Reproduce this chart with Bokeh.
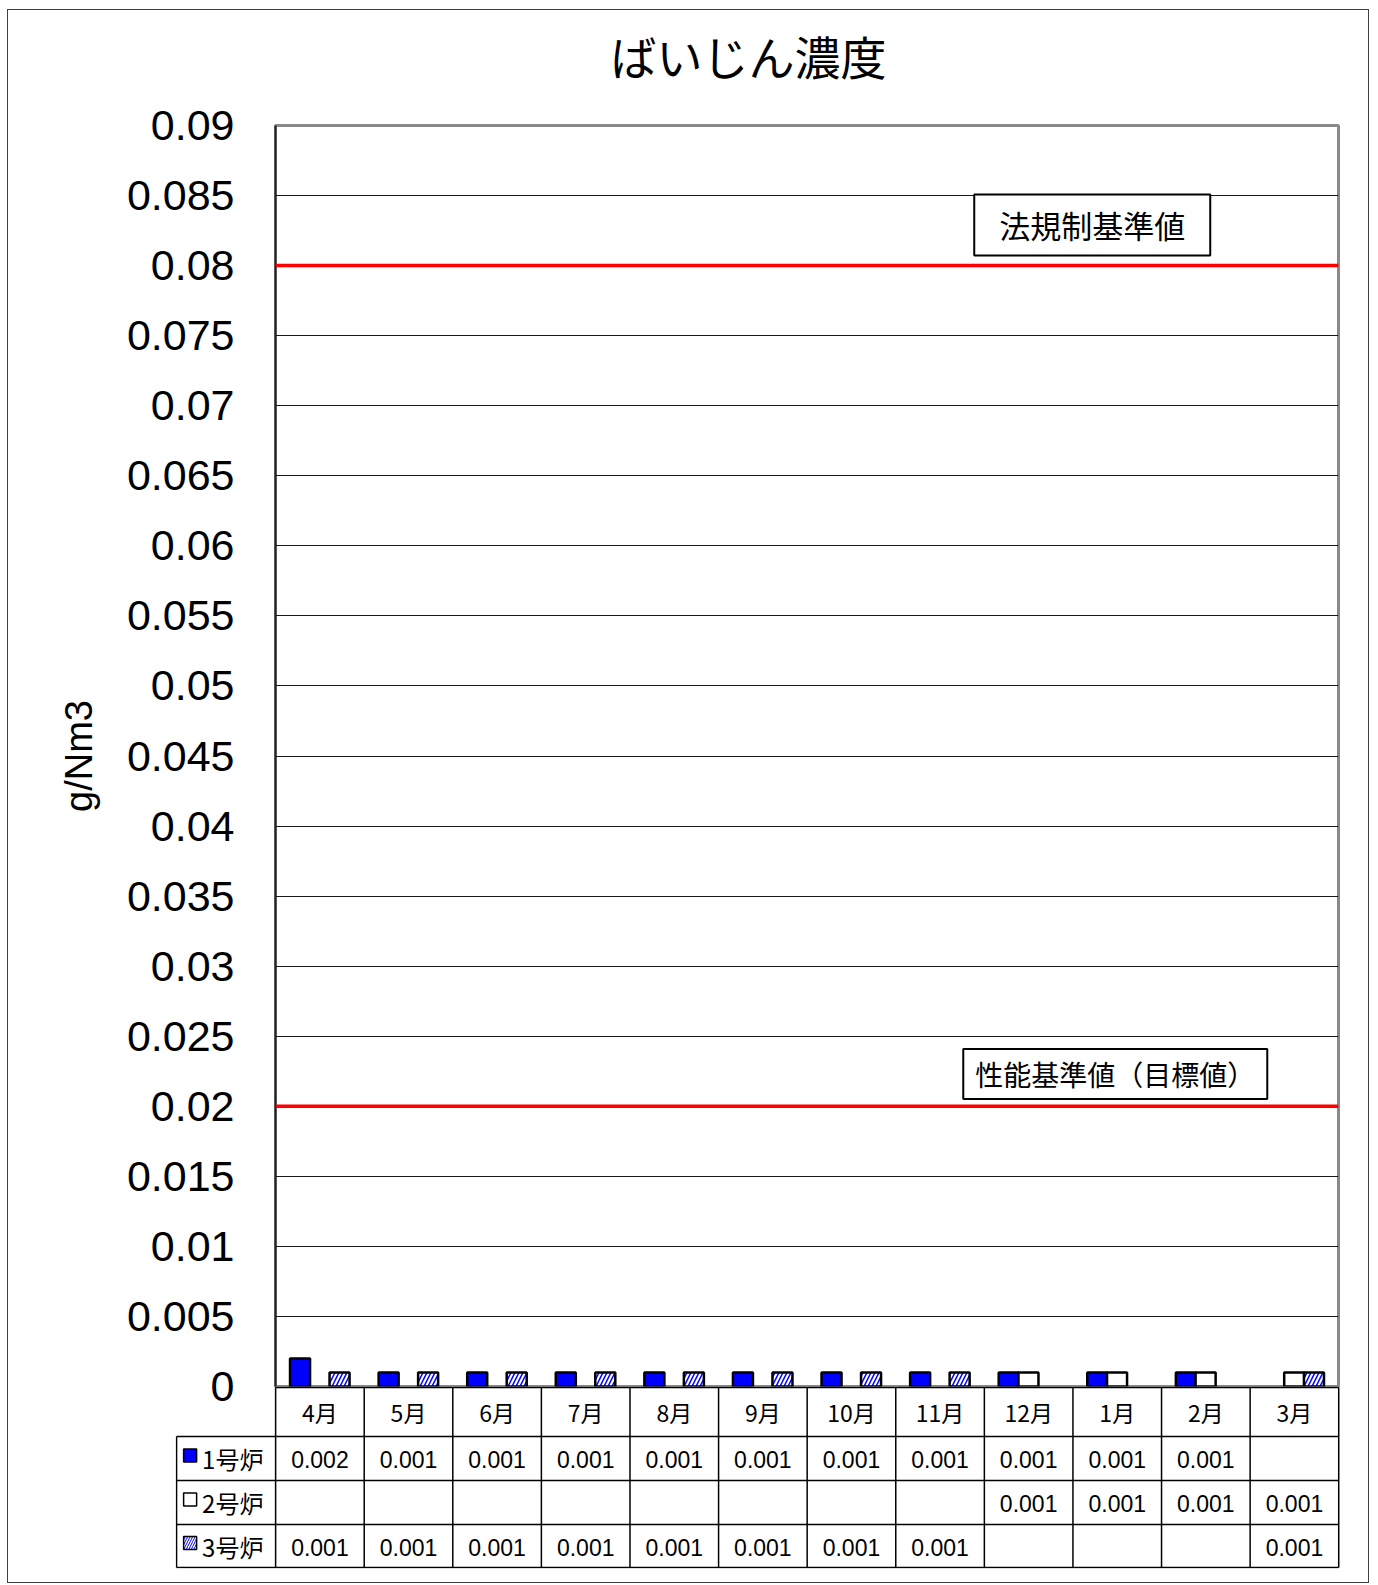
from bokeh.plotting import figure
from bokeh.models import (ColumnDataSource, FactorRange, Range1d, FixedTicker,
                          CustomJSTickFormatter, Span, Label)
from bokeh.transform import dodge
from bokeh.core.properties import value
from bokeh.embed import file_html
from bokeh.resources import INLINE

# ---------------- data ----------------
months = ["4月", "5月", "6月", "7月", "8月", "9月", "10月", "11月", "12月", "1月", "2月", "3月"]
series_names = ["1号炉", "2号炉", "3号炉"]
unit1 = [0.002, 0.001, 0.001, 0.001, 0.001, 0.001, 0.001, 0.001, 0.001, 0.001, 0.001, None]
unit2 = [None, None, None, None, None, None, None, None, 0.001, 0.001, 0.001, 0.001]
unit3 = [0.001, 0.001, 0.001, 0.001, 0.001, 0.001, 0.001, 0.001, None, None, None, 0.001]
limit_values = [0.08, 0.02]
limit_labels = ["法規制基準値", "性能基準値（目標値）"]
y_ticks = [0.0, 0.005, 0.01, 0.015, 0.02, 0.025, 0.03, 0.035, 0.04, 0.045,
           0.05, 0.055, 0.06, 0.065, 0.07, 0.075, 0.08, 0.085, 0.09]
title_text = "ばいじん濃度"
y_label = "g/Nm3"

series = [unit1, unit2, unit3]

# ---------------- styles ----------------
BLUE = "#0000ff"
bar_styles = [
    dict(fill_color=BLUE),
    dict(fill_color="white"),
    dict(fill_color="white", hatch_pattern="/", hatch_color=BLUE, hatch_scale=8, hatch_weight=1.5),
]
offsets = [-0.223, 0.0, 0.223]
bar_width = 0.226
JP = "Noto Sans CJK JP"
LAT = "Liberation Sans"
BORDER = "1px solid #404040"
W = 1362

# ---------------- title strip ----------------
TITLE_H = 116
p0 = figure(width=W, height=TITLE_H, x_range=Range1d(0, W), y_range=Range1d(TITLE_H, 0),
            toolbar_location=None, output_backend="svg",
            x_axis_location=None, y_axis_location=None,
            min_border_left=0, min_border_right=0, min_border_top=0, min_border_bottom=0,
            styles={"margin-left": "7px", "margin-top": "9px",
                    "border-top": BORDER, "border-left": BORDER, "border-right": BORDER})
p0.outline_line_color = None
p0.grid.visible = False
p0.text(x=[602], y=[44], text=[title_text], text_font=value(JP), text_font_size="46px",
        text_color="black", text_align="left", text_baseline="middle")

# ---------------- chart ----------------
FRAME_H = 1261
p1 = figure(width=W, height=FRAME_H + 50,
            x_range=FactorRange(factors=months, range_padding=0, factor_padding=0),
            y_range=Range1d(0, 0.09),
            toolbar_location=None, output_backend="svg",
            x_axis_location=None,
            min_border_left=267, min_border_right=32, min_border_top=25, min_border_bottom=25,
            styles={"margin-left": "7px", "margin-top": "-25px",
                    "border-left": BORDER, "border-right": BORDER})
p1.title.visible = False
p1.border_fill_color = None

p1.outline_line_color = "#8a8a8a"
p1.outline_line_width = 3
p1.xgrid.grid_line_color = None
p1.ygrid.ticker = FixedTicker(ticks=y_ticks)
p1.ygrid.grid_line_color = "#1a1a1a"
p1.ygrid.grid_line_width = 1

ax = p1.yaxis[0]
ax.ticker = FixedTicker(ticks=y_ticks)
ax.formatter = CustomJSTickFormatter(code="return String(Number(tick.toFixed(3)));")
ax.major_label_text_font = LAT
ax.major_label_text_font_size = "43px"
ax.major_label_text_color = "black"
ax.major_tick_line_color = None
ax.minor_tick_line_color = None
ax.major_tick_out = 0
ax.major_label_standoff = 41
ax.axis_line_color = "#222222"
ax.axis_line_width = 2
ax.axis_label = y_label
ax.axis_label_text_font = LAT
ax.axis_label_text_font_size = "38px"
ax.axis_label_text_font_style = "normal"
ax.axis_label_text_color = "black"
ax.axis_label_standoff = 24

for vals, off, st in zip(series, offsets, bar_styles):
    src = ColumnDataSource(dict(
        x=[m for m, v in zip(months, vals) if v is not None],
        top=[v for v in vals if v is not None]))
    p1.vbar(x=dodge("x", off, range=p1.x_range), top="top", width=bar_width,
            source=src, line_color="black", line_width=2.5, **st)

for v in limit_values:
    p1.add_layout(Span(location=v, dimension="width", line_color="#ff0000", line_width=3.5))

label_specs = [
    dict(x=9.22, y=limit_values[0] + 0.0029, size="31px", pad=dict(left=25, right=25, top=8, bottom=8)),
    dict(x=9.48, y=limit_values[1] + 0.0023, size="28px", pad=dict(left=12, right=12, top=5, bottom=5)),
]
for txt, spec in zip(limit_labels, label_specs):
    p1.add_layout(Label(x=spec["x"], y=spec["y"], text=txt,
                        text_font=JP, text_font_size=spec["size"], text_color="black",
                        text_align="center", text_baseline="middle",
                        border_line_color="black", border_line_width=2,
                        background_fill_color="white", padding=spec["pad"]))

# ---------------- data table ----------------
n = len(months)
row_edges = [0, 49, 93, 137, 180]          # layout of the table rows (px)
row_mid = [(a + b) / 2 for a, b in zip(row_edges[:-1], row_edges[1:])]
left_col = -1.118

p2 = figure(width=W, height=197,
            x_range=Range1d(-1.13, 12.02), y_range=Range1d(181, -1),
            toolbar_location=None, output_backend="svg",
            x_axis_location=None, y_axis_location=None,
            min_border_left=167, min_border_right=30, min_border_top=0, min_border_bottom=15,
            styles={"margin-left": "7px", "margin-top": "-25px",
                    "border-bottom": BORDER, "border-left": BORDER, "border-right": BORDER})
p2.outline_line_color = None
p2.border_fill_color = None
p2.background_fill_color = None
p2.grid.visible = False

hx0 = [0] + [left_col] * (len(row_edges) - 1)
hx1 = [n] * len(row_edges)
p2.segment(x0=hx0, x1=hx1, y0=row_edges, y1=row_edges, line_color="black", line_width=1.5)
vx = [left_col] + list(range(n + 1))
vy0 = [row_edges[1]] + [row_edges[0]] * (n + 1)
vy1 = [row_edges[-1]] * (n + 2)
p2.segment(x0=vx, x1=vx, y0=vy0, y1=vy1, line_color="black", line_width=1.5)

centers = [i + 0.5 for i in range(n)]
p2.text(x=centers, y=[row_mid[0]] * n, text=months, text_font=value(JP), text_font_size="23px",
        text_align="center", text_baseline="middle", text_color="black")

for r, vals in enumerate(series, start=1):
    xs = [c for c, v in zip(centers, vals) if v is not None]
    ts = [f"{v:.3f}" for v in vals if v is not None]
    p2.text(x=xs, y=[row_mid[r] + 1] * len(xs), text=ts, text_font=value(LAT), text_font_size="23px",
            text_align="center", text_baseline="middle", text_color="black")

for r, (name, st) in enumerate(zip(series_names, bar_styles), start=1):
    mst = dict(st)
    if "hatch_scale" in mst:
        mst["hatch_scale"] = 5
        mst["hatch_weight"] = 1
    p2.rect(x=[-0.965], y=[row_mid[r] - 3], width=13, height=13, width_units="screen",
            height_units="screen", line_color="black", line_width=1.5, **mst)
    p2.text(x=[-0.83], y=[row_mid[r]], text=[name], text_font=value(JP), text_font_size="24px",
            text_align="left", text_baseline="middle", text_color="black")

open("out.html", "w").write(file_html([p0, p1, p2], INLINE))
